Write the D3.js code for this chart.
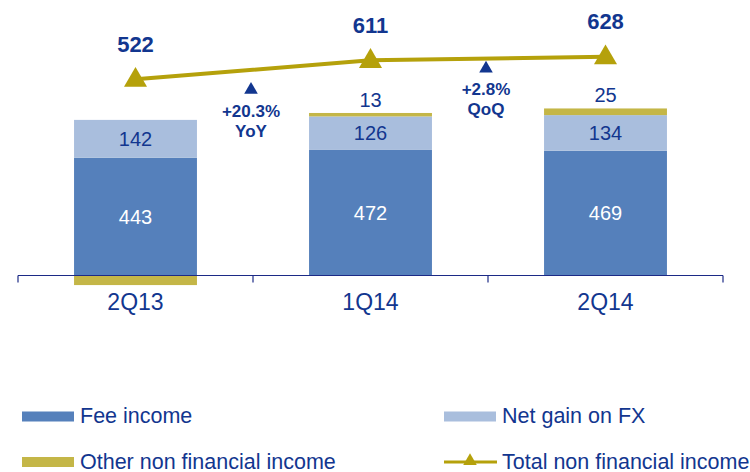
<!DOCTYPE html>
<html lang="en">
  <head>
    <meta charset="UTF-8" />
    <title>Non financial income</title>
    <style>
      body { margin: 0; background: #fff; }
      text { font-family: "Liberation Sans", Arial, sans-serif; }
    </style>
  </head>
  <body>
    <svg width="750" height="472"></svg>
    <script src="https://cdnjs.cloudflare.com/ajax/libs/d3/7.8.5/d3.min.js"></script>
    <script>
      // data
      const quarters = ["2Q13", "1Q14", "2Q14"];
      const feeIncome = [443, 472, 469];
      const netGainFX = [142, 126, 134];
      const otherIncome = [-36, 13, 25];
      const totalIncome = [522, 611, 628];
      const changeLabels = ["+20.3%", "+2.8%"];
      const changeSubs = ["YoY", "QoQ"];
      const seriesNames = ["Fee income", "Net gain on FX", "Other non financial income", "Total non financial income"];

      // layout bits (not data)
      const changeOffsets = [12, 2]; // px below the line midpoint

      const blue = "#12368f";
      const colFee = "#5580bb";
      const colFX = "#a9bedd";
      const colOther = "#c4b647";
      const colLine = "#b5a10b";

      const svg = d3.select("svg");

      const x = d3.scaleBand().domain(quarters).range([18, 723])
        .paddingInner(0.477).paddingOuter(0.2385);
      const y = d3.scaleLinear().domain([0, 1000]).range([275.5, 9.5]);
      // the total line sits on its own axis
      const y2 = d3.scaleLinear().domain([0, 895]).range([190, 0]);

      const g = svg.append("g");

      quarters.forEach((q, i) => {
        const x0 = x(q), w = x.bandwidth();
        const fee = feeIncome[i], fx = netGainFX[i], oth = otherIncome[i];
        g.append("rect").attr("x", x0).attr("width", w)
          .attr("y", y(fee)).attr("height", y(0) - y(fee)).attr("fill", colFee);
        g.append("rect").attr("x", x0).attr("width", w)
          .attr("y", y(fee + fx)).attr("height", y(fee) - y(fee + fx)).attr("fill", colFX);
        if (oth >= 0) {
          g.append("rect").attr("x", x0).attr("width", w)
            .attr("y", y(fee + fx + oth)).attr("height", y(fee + fx) - y(fee + fx + oth))
            .attr("fill", colOther);
        } else {
          g.append("rect").attr("x", x0).attr("width", w)
            .attr("y", y(0)).attr("height", y(oth) - y(0)).attr("fill", colOther);
        }
        const cx = x0 + w / 2;
        g.append("text").attr("x", cx).attr("y", y(fee / 2) + 7)
          .attr("text-anchor", "middle").attr("font-size", 20).attr("fill", "#fff").text(fee);
        g.append("text").attr("x", cx).attr("y", y(fee + fx / 2) + 7)
          .attr("text-anchor", "middle").attr("font-size", 20).attr("fill", blue).text(fx);
        if (oth > 0) {
          g.append("text").attr("x", cx).attr("y", y(fee + fx + oth) - 6)
            .attr("text-anchor", "middle").attr("font-size", 20).attr("fill", blue).text(oth);
        }
      });

      // axis
      const axis = svg.append("g").attr("transform", `translate(0,${y(0)})`);
      axis.append("line").attr("x1", 18).attr("x2", 723).attr("stroke", "#1c2a86").attr("stroke-width", 1.2);
      const edges = [18].concat(quarters.map(q => x(q) + x.bandwidth() / 2 + x.step() / 2));
      edges.forEach(e => axis.append("line").attr("x1", e).attr("x2", e)
        .attr("y1", 0).attr("y2", 7).attr("stroke", "#1c2a86").attr("stroke-width", 1.2));
      quarters.forEach(q => axis.append("text").attr("x", x(q) + x.bandwidth() / 2).attr("y", 34.5)
        .attr("text-anchor", "middle").attr("font-size", 23).attr("fill", blue).text(q));

      // total line
      const cxs = quarters.map(q => x(q) + x.bandwidth() / 2);
      const line = d3.line().x((d, i) => cxs[i]).y(d => y2(d));
      svg.append("path").datum(totalIncome).attr("d", line)
        .attr("fill", "none").attr("stroke", colLine).attr("stroke-width", 4);
      const tri = d3.symbol().type(d3.symbolTriangle).size(230);
      totalIncome.forEach((v, i) => {
        svg.append("path").attr("d", tri)
          .attr("transform", `translate(${cxs[i]},${y2(v) + 1})`).attr("fill", colLine);
        svg.append("text").attr("x", cxs[i]).attr("y", y2(v) - 27.5)
          .attr("text-anchor", "middle").attr("font-size", 22).attr("font-weight", "bold")
          .attr("fill", blue).text(v);
      });

      // change annotations between bars
      const smallTri = d3.symbol().type(d3.symbolTriangle).size(80);
      changeLabels.forEach((lab, i) => {
        const mx = (cxs[i] + cxs[i + 1]) / 2 - 2;
        const apex = (y2(totalIncome[i]) + y2(totalIncome[i + 1])) / 2 + changeOffsets[i];
        svg.append("path").attr("d", smallTri).attr("transform", `translate(${mx},${apex + 8})`).attr("fill", blue);
        svg.append("text").attr("x", mx).attr("y", apex + 35).attr("text-anchor", "middle")
          .attr("font-size", 17).attr("font-weight", "bold").attr("fill", blue).text(lab);
        svg.append("text").attr("x", mx).attr("y", apex + 55).attr("text-anchor", "middle")
          .attr("font-size", 17).attr("font-weight", "bold").attr("fill", blue).text(changeSubs[i]);
      });

      // legend
      const legendColors = [colFee, colFX, colOther, colLine];
      const legendX = [22, 444, 22, 444];
      const legendY = [416.5, 416.5, 462, 462];
      seriesNames.forEach((name, i) => {
        const lg = svg.append("g").attr("transform", `translate(${legendX[i]},${legendY[i]})`);
        if (i === 3) {
          lg.append("line").attr("x1", 0).attr("x2", 53).attr("stroke", legendColors[i]).attr("stroke-width", 3);
          lg.append("path").attr("d", d3.symbol().type(d3.symbolTriangle).size(80))
            .attr("transform", "translate(26,-1)").attr("fill", legendColors[i]);
        } else {
          lg.append("rect").attr("x", 0).attr("y", -5).attr("width", 52).attr("height", 10).attr("fill", legendColors[i]);
        }
        lg.append("text").attr("x", 58).attr("y", 6.5).attr("font-size", 21.5).attr("fill", blue).text(name);
      });
    </script>
  </body>
</html>
